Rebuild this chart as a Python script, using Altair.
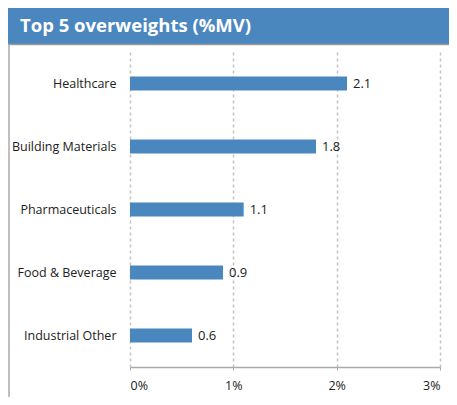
import altair as alt
import pandas as pd

categories = ["Healthcare", "Building Materials", "Pharmaceuticals", "Food & Beverage", "Industrial Other"]
values = [2.1, 1.8, 1.1, 0.9, 0.6]
x_ticks = [0, 1, 2, 3]
title_text = "Top 5 overweights (%MV)"

df = pd.DataFrame({"sector": categories, "value": values})

W, H = 310, 315
BLUE = "#4a87bf"
FONT = "Open Sans"
TXT = "#222222"
FS = 12.5

x_enc = alt.X(
    "value:Q",
    scale=alt.Scale(domain=[0, 3], nice=False),
    axis=alt.Axis(
        values=x_ticks, labelExpr="datum.value + '%'", grid=True,
        gridDash=[3, 3], gridColor="#c4c4c4", gridWidth=1.5,
        domainColor="#aaaaaa", domainWidth=1.5, tickColor="#aaaaaa", tickSize=3,
        labelFontSize=FS, labelPadding=9, labelColor=TXT, labelFont=FONT, title=None,
    ),
)
y_enc = alt.Y(
    "sector:N", sort=categories,
    scale=alt.Scale(paddingInner=0.78, paddingOuter=0.39),
    axis=alt.Axis(title=None, domain=False, ticks=False, labelPadding=14,
                  labelFontSize=FS, labelColor=TXT, labelFont=FONT),
)

bars = alt.Chart(df).mark_bar(color=BLUE).encode(x=x_enc, y=y_enc)
labels = alt.Chart(df).mark_text(
    align="left", dx=6, fontSize=FS + 0.5, color=TXT, font=FONT
).encode(
    x="value:Q", y=alt.Y("sector:N", sort=categories),
    text=alt.Text("value:Q", format=".1f"),
)

tdf = pd.DataFrame({"t": [title_text]})
banner = alt.Chart(tdf).mark_rect(color=BLUE).encode(
    x=alt.value(-122), x2=alt.value(W + 12), y=alt.value(-45), y2=alt.value(-8)
)
banner_line = alt.Chart(tdf).mark_rule(color="#9a9a9a", strokeWidth=1.5).encode(
    x=alt.value(-122), x2=alt.value(W + 12), y=alt.value(-7.5)
)
left_line = alt.Chart(tdf).mark_rule(color="#aaaaaa", strokeWidth=1.5).encode(
    x=alt.value(-121), y=alt.value(-8), y2=alt.value(H + 40)
)
title = alt.Chart(tdf).mark_text(
    align="left", baseline="middle", fontSize=18.5, fontWeight="bold", color="white", font=FONT
).encode(text="t:N", x=alt.value(-110), y=alt.value(-26))

chart = alt.layer(bars, labels, banner, banner_line, left_line, title).properties(
    width=W, height=H,
    padding={"left": 122, "top": 44, "right": 9, "bottom": 30},
    autosize=alt.AutoSizeParams(type="none"),
).configure_view(stroke=None)

chart.save("out.html", embed_options={"renderer": "svg", "actions": False})
